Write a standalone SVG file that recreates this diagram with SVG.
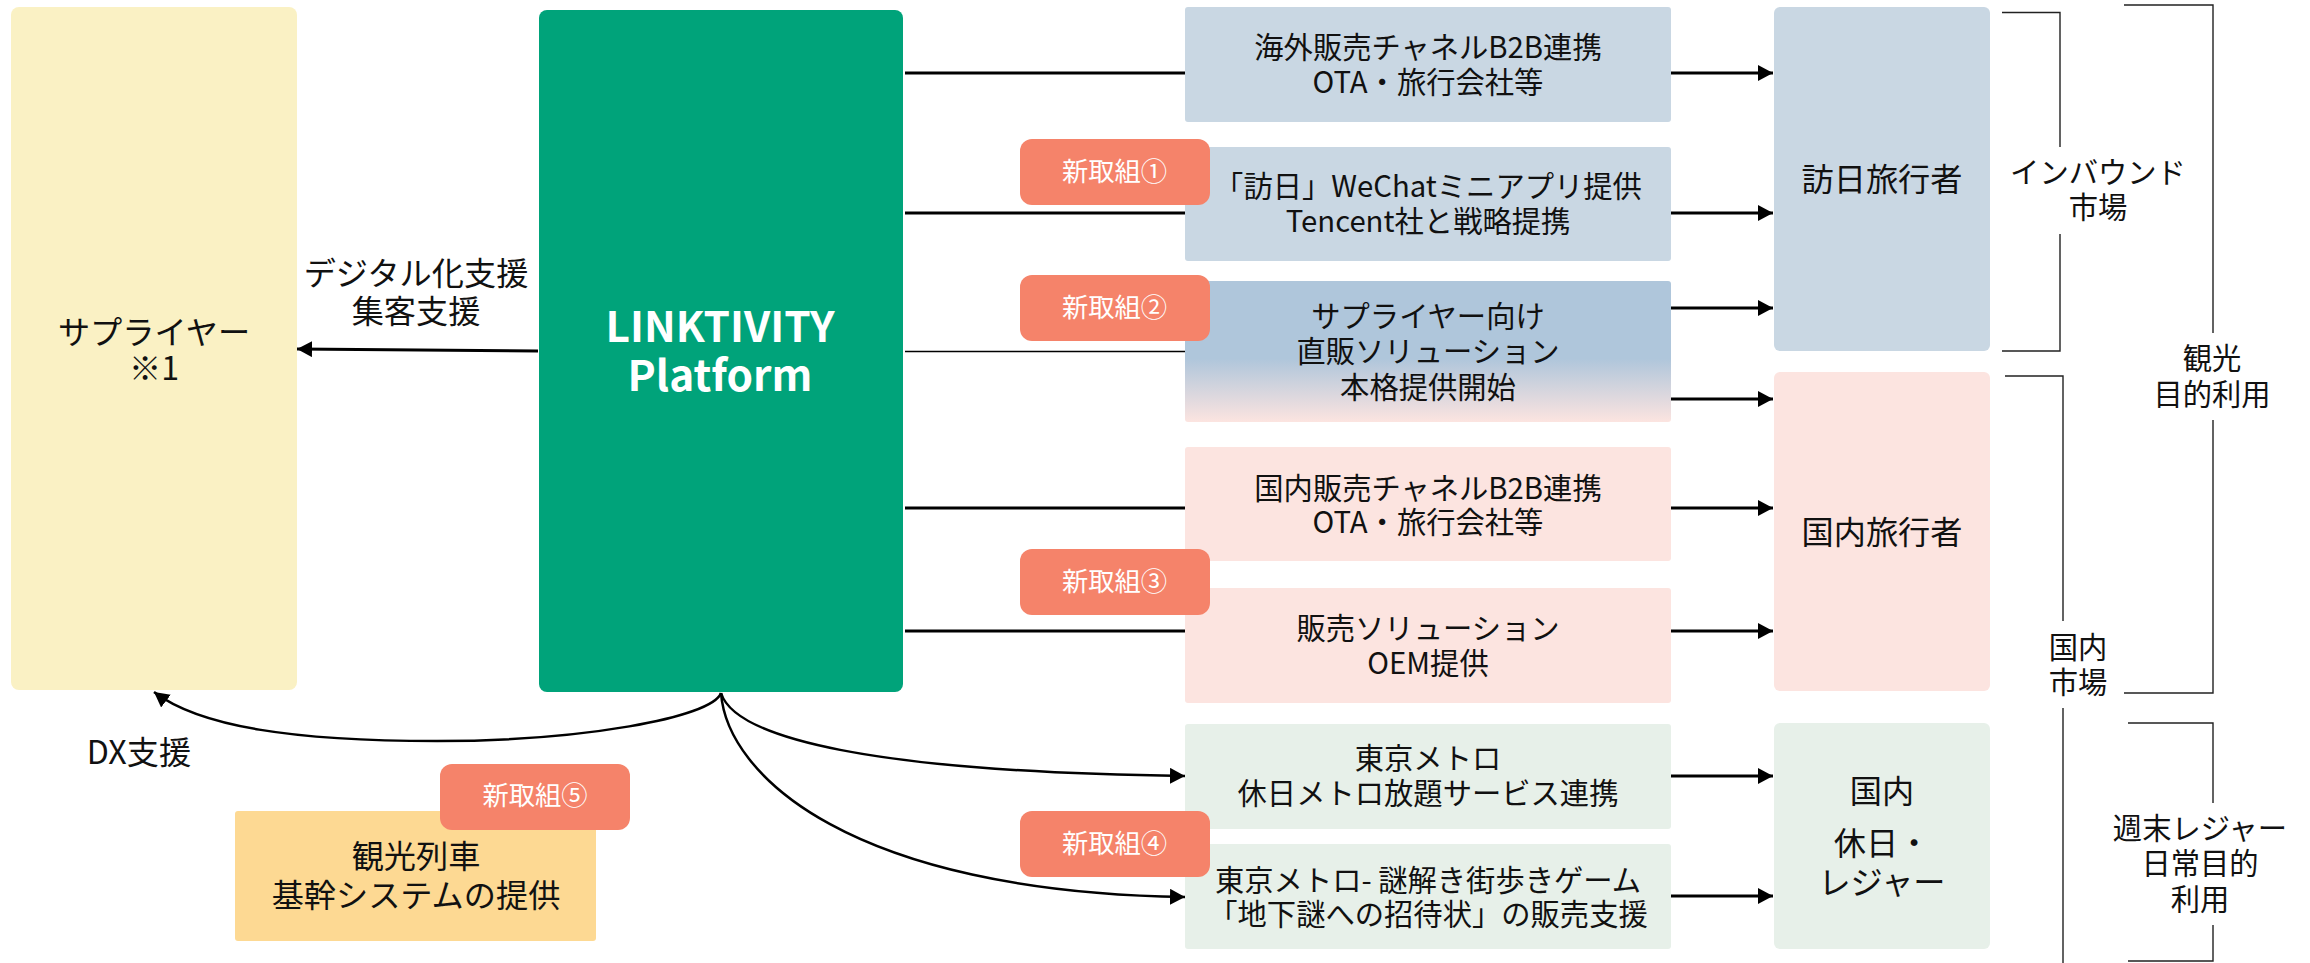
<svg xmlns="http://www.w3.org/2000/svg" width="2310" height="963" viewBox="0 0 2310 963">
<style>
text{font-family:"Noto Sans CJK JP","Noto Sans",sans-serif;text-anchor:middle;dominant-baseline:central;fill:#111;transform:translateY(-2.500px)}
.s{font-size:29.3px}.l{font-size:32.200px}.b{font-size:26.300px;fill:#fff}
.c{fill:none;stroke:#000;stroke-width:3}
.q{fill:none;stroke:#000;stroke-width:2.500}
.t{fill:none;stroke:#222;stroke-width:1.4}
.a{marker-end:url(#ah)}
.blue{fill:#C9D7E3}.pink{fill:#FCE4E0}.mint{fill:#E7F0E9}.badge{fill:#F5836A}
</style>
<defs>
<marker id="ah" markerUnits="userSpaceOnUse" markerWidth="16" markerHeight="18" refX="15" refY="8" orient="auto"><path d="M0 0L15 8L0 16Z" fill="#000"/></marker>
<linearGradient id="grad" x1="0" y1="0" x2="0" y2="1"><stop offset="0" stop-color="#AFC6DB"/><stop offset=".55" stop-color="#AFC6DB"/><stop offset="1" stop-color="#FCE4E0"/></linearGradient>
</defs>
<g id="connectors">
<path class="c" d="M905 73H1185"/><path class="c" d="M905 213H1185"/><path class="c" d="M905 351.500H1185" style="stroke-width:1.600"/><path class="c" d="M905 508H1185"/><path class="c" d="M905 631H1185"/>
<path class="c a" d="M1671 73H1773"/><path class="c a" d="M1671 213H1773"/><path class="c a" d="M1671 308H1773"/><path class="c a" d="M1671 399H1773"/><path class="c a" d="M1671 508H1773"/><path class="c a" d="M1671 631H1773"/><path class="c a" d="M1671 776H1773"/><path class="c a" d="M1671 896H1773"/>
<path class="c a" d="M538 351L297 349"/>
<path class="q a" d="M721 693C712 718 580 741 437 741S200 727 154 692"/>
<path class="q a" d="M721 693C735 738 870 772 1185 776"/>
<path class="q a" d="M721 693C727 775 850 892 1185 897"/>
</g>
<g id="brackets">
<path class="t" d="M2002 12.500H2060V147M2060 234V351H2002"/>
<path class="t" d="M2124 5H2213V333M2213 420V693H2124"/>
<path class="t" d="M2005 376H2063V621M2063 708V963"/>
<path class="t" d="M2128 723H2213V803M2213 925V961H2128"/>
</g>
<g id="supplier"><rect x="11" y="7" width="286" height="683" rx="8" fill="#FAF1C4"/><text class="l" x="154" y="332">サプライヤー</text><text class="l" x="154" y="368">※1</text></g>
<g id="platform"><rect x="539" y="10" width="364" height="682" rx="8" fill="#00A37A"/><text x="720" y="326" font-size="42.400" font-weight="700" style="fill:#fff">LINKTIVITY</text><text x="720" y="375" font-size="42.400" font-weight="700" style="fill:#fff">Platform</text></g>
<g id="label-digital"><text class="l" x="416" y="273">デジタル化支援</text><text class="l" x="416" y="311">集客支援</text></g>
<g id="label-dx"><text class="l" x="139" y="752">DX支援</text></g>
<g id="ch1"><rect class="blue" x="1185" y="7" width="486" height="115" rx="3"/><text class="s" x="1428" y="47">海外販売チャネルB2B連携</text><text class="s" x="1428" y="82">OTA・旅行会社等</text></g>
<g id="ch2"><rect class="blue" x="1185" y="147" width="486" height="114" rx="3"/><text class="s" x="1428" y="186">「訪日」WeChatミニアプリ提供</text><text class="s" x="1428" y="221">Tencent社と戦略提携</text></g>
<g id="ch3"><rect x="1185" y="281" width="486" height="141" rx="3" fill="url(#grad)"/><text class="s" x="1428" y="316">サプライヤー向け</text><text class="s" x="1428" y="351">直販ソリューション</text><text class="s" x="1428" y="387">本格提供開始</text></g>
<g id="ch4"><rect class="pink" x="1185" y="447" width="486" height="114" rx="3"/><text class="s" x="1428" y="488">国内販売チャネルB2B連携</text><text class="s" x="1428" y="522">OTA・旅行会社等</text></g>
<g id="ch5"><rect class="pink" x="1185" y="588" width="486" height="115" rx="3"/><text class="s" x="1428" y="628">販売ソリューション</text><text class="s" x="1428" y="663">OEM提供</text></g>
<g id="ch6"><rect class="mint" x="1185" y="724" width="486" height="105" rx="3"/><text class="s" x="1428" y="758">東京メトロ</text><text class="s" x="1428" y="793">休日メトロ放題サービス連携</text></g>
<g id="ch7"><rect class="mint" x="1185" y="844" width="486" height="105" rx="3"/><text class="s" x="1428" y="880">東京メトロ- 謎解き街歩きゲーム</text><text class="s" x="1428" y="914">「地下謎への招待状」の販売支援</text></g>
<g id="inbound"><rect class="blue" x="1774" y="7" width="216" height="344" rx="6"/><text class="l" x="1882" y="179">訪日旅行者</text></g>
<g id="domestic"><rect class="pink" x="1774" y="372" width="216" height="319" rx="6"/><text class="l" x="1882" y="532">国内旅行者</text></g>
<g id="leisure"><rect class="mint" x="1774" y="723" width="216" height="226" rx="6"/><text class="l" x="1882" y="791">国内</text><text class="l" x="1882" y="843">休日・</text><text class="l" x="1882" y="882">レジャー</text></g>
<g id="train"><rect x="235" y="811" width="361" height="130" rx="3" fill="#FDD993"/><text class="l" x="416" y="856">観光列車</text><text class="l" x="416" y="895">基幹システムの提供</text></g>
<g id="badge1"><rect class="badge" x="1020" y="139" width="190" height="66" rx="12"/><text class="b" x="1114.500" y="172">新取組①</text></g>
<g id="badge2"><rect class="badge" x="1020" y="275" width="190" height="66" rx="12"/><text class="b" x="1114.500" y="308">新取組②</text></g>
<g id="badge3"><rect class="badge" x="1020" y="549" width="190" height="66" rx="12"/><text class="b" x="1114.500" y="582">新取組③</text></g>
<g id="badge4"><rect class="badge" x="1020" y="811" width="190" height="66" rx="12"/><text class="b" x="1114.500" y="844">新取組④</text></g>
<g id="badge5"><rect class="badge" x="440" y="764" width="190" height="66" rx="12"/><text class="b" x="535" y="796">新取組⑤</text></g>
<g id="market-labels">
<text class="s" x="2098" y="172">インバウンド</text><text class="s" x="2098" y="207">市場</text>
<text class="s" x="2212" y="358">観光</text><text class="s" x="2212" y="394">目的利用</text>
<text class="s" x="2078" y="647">国内</text><text class="s" x="2078" y="682">市場</text>
<text class="s" x="2200" y="828">週末レジャー</text><text class="s" x="2200" y="863">日常目的</text><text class="s" x="2200" y="899">利用</text>
</g>
</svg>
